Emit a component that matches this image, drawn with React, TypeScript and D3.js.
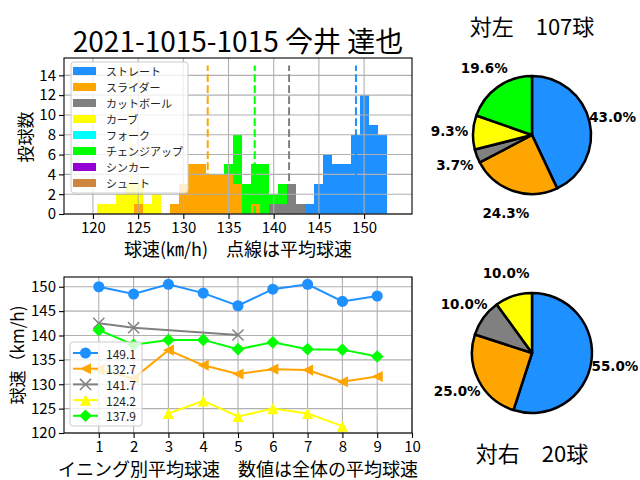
import React, { useRef, useEffect } from 'react';
import * as d3 from 'd3';

const pitchTypes = ['ストレート', 'スライダー', 'カットボール', 'カーブ', 'フォーク', 'チェンジアップ', 'シンカー', 'シュート'];
const pitchColors = ['#1e90ff', '#ffa500', '#808080', '#ffff00', '#00ffff', '#00ff00', '#9400d3', '#cd853f'];

// [speed km/h, count] per pitch type
const straightHist: [number, number][] = [[144, 1], [145, 3], [146, 6], [147, 5], [148, 5], [149, 8], [150, 12], [151, 9], [152, 8]];
const sliderHist: [number, number][] = [[125, 1], [129, 1], [130, 3], [131, 5], [132, 5], [133, 4], [134, 4], [135, 4], [136, 3], [138, 1]];
const cutterHist: [number, number][] = [[140, 1], [141, 1], [142, 3], [143, 1]];
const curveHist: [number, number][] = [[121, 1], [122, 1], [123, 2], [124, 3], [125, 2], [126, 1], [127, 2]];
const forkHist: [number, number][] = [];
const changeupHist: [number, number][] = [[135, 1], [136, 5], [137, 3], [138, 4], [139, 5], [140, 1], [141, 2]];
const sinkerHist: [number, number][] = [];
const shootHist: [number, number][] = [];
const pitchHists = [straightHist, sliderHist, cutterHist, curveHist, forkHist, changeupHist, sinkerHist, shootHist];

const meanSpeeds = [149.1, 132.7, 141.7, 124.2, NaN, 137.9, NaN, NaN];

const histXTicks = [120, 125, 130, 135, 140, 145, 150];
const histYTicks = [0, 2, 4, 6, 8, 10, 12, 14];

// [inning, average speed]
const straightByInning: [number, number][] = [[1, 150.0], [2, 148.5], [3, 150.5], [4, 148.7], [5, 146.1], [6, 149.5], [7, 150.5], [8, 147.0], [9, 148.1]];
const sliderByInning: [number, number][] = [[1, 133.0], [2, 131.2], [3, 137.0], [4, 133.9], [5, 132.1], [6, 133.1], [7, 132.9], [8, 130.5], [9, 131.6]];
const cutterByInning: [number, number][] = [[1, 142.5], [2, 141.6], [5, 140.1]];
const curveByInning: [number, number][] = [[3, 124.0], [4, 126.6], [5, 123.4], [6, 125.0], [7, 124.0], [8, 121.4]];
const changeupByInning: [number, number][] = [[1, 141.1], [2, 138.1], [3, 139.1], [4, 139.1], [5, 137.2], [6, 138.6], [7, 137.2], [8, 137.1], [9, 135.7]];
const inningSeries = [straightByInning, sliderByInning, cutterByInning, curveByInning, changeupByInning];
const inningSeriesType = [0, 1, 2, 3, 5];
const inningMarkers = ['circle', 'left', 'x', 'up', 'diamond'];

const inningXTicks = [1, 2, 3, 4, 5, 6, 7, 8, 9, 10];
const inningYTicks = [120, 125, 130, 135, 140, 145, 150];

// pitch counts by batter side, same order as pitchTypes
const leftCounts = [46, 26, 4, 10, 0, 21, 0, 0];
const rightCounts = [11, 5, 2, 2, 0, 0, 0, 0];

const App: React.FC = () => {
    const svgRef = useRef<SVGSVGElement | null>(null);
    const width = 640;
    const height = 480;

    useEffect(() => {
        if (!svgRef.current) return;
        const svg = d3.select(svgRef.current);
        svg.selectAll('*').remove();
        const font = '"Noto Sans CJK JP", sans-serif';

        svg.append('rect').attr('width', width).attr('height', height).attr('fill', 'white');

        const styleAxis = (g: any) => {
            g.select('.domain').remove();
            g.selectAll('line').attr('stroke', 'black').attr('stroke-width', 1.1);
            g.selectAll('text').attr('font-family', font).attr('font-size', 15).attr('fill', 'black');
        };

        // ---------- histogram ----------
        const hx = d3.scaleLinear().domain([116.8, 155.3]).range([64, 412]);
        const hy = d3.scaleLinear().domain([0, 15.75]).range([214, 58]);

        const speeds = d3.range(118, 155);
        const rows = speeds.map(s => {
            const row: any = { speed: s };
            pitchHists.forEach((h, i) => {
                const f = h.find(d => d[0] === s);
                row[pitchTypes[i]] = f ? f[1] : 0;
            });
            return row;
        });
        const stacked = d3.stack<any>().keys(pitchTypes)(rows);
        stacked.forEach((layer, i) => {
            svg.append('g')
                .selectAll('rect')
                .data(layer.filter(d => d[1] > d[0]))
                .join('rect')
                .attr('x', d => hx(d.data.speed - 0.5))
                .attr('width', d => hx(d.data.speed + 0.5) - hx(d.data.speed - 0.5))
                .attr('y', d => hy(d[1]))
                .attr('height', d => hy(d[0]) - hy(d[1]))
                .attr('fill', pitchColors[i])
                .attr('shape-rendering', 'crispEdges');
        });

        const hGrid = svg.append('g').attr('stroke', '#b0b0b0').attr('stroke-width', 1.1);
        histXTicks.forEach(t => hGrid.append('line').attr('x1', hx(t)).attr('x2', hx(t)).attr('y1', 58).attr('y2', 214));
        histYTicks.forEach(t => hGrid.append('line').attr('x1', 64).attr('x2', 412).attr('y1', hy(t)).attr('y2', hy(t)));

        meanSpeeds.forEach((m, i) => {
            if (isNaN(m)) return;
            svg.append('line')
                .attr('x1', hx(m)).attr('x2', hx(m))
                .attr('y1', hy(0)).attr('y2', hy(15))
                .attr('stroke', pitchColors[i])
                .attr('stroke-width', 2)
                .attr('stroke-dasharray', '7.7 3.3');
        });

        svg.append('g').attr('transform', 'translate(0,214)')
            .call(d3.axisBottom(hx).tickValues(histXTicks).tickSize(5).tickPadding(3).tickFormat(d3.format('d')))
            .call(styleAxis);
        svg.append('g').attr('transform', 'translate(64,0)')
            .call(d3.axisLeft(hy).tickValues(histYTicks).tickSize(5).tickPadding(3).tickFormat(d3.format('d')))
            .call(styleAxis);
        svg.append('rect').attr('x', 64).attr('y', 58).attr('width', 348).attr('height', 156)
            .attr('fill', 'none').attr('stroke', 'black').attr('stroke-width', 1.1);

        const hLegend = svg.append('g');
        hLegend.append('rect').attr('x', 71).attr('y', 62).attr('width', 117).attr('height', 131).attr('rx', 3)
            .attr('fill', 'white').attr('fill-opacity', 0.8).attr('stroke', '#cccccc');
        pitchTypes.forEach((p, i) => {
            const cy = 71 + i * 16;
            hLegend.append('rect').attr('x', 73).attr('y', cy - 4).attr('width', 23).attr('height', 8).attr('fill', pitchColors[i]);
            hLegend.append('text').attr('x', 106).attr('y', cy).attr('dominant-baseline', 'central')
                .attr('font-family', font).attr('font-size', 11).attr('fill', '#222').text(p);
        });

        svg.append('text').attr('x', 238).attr('y', 40).attr('text-anchor', 'middle').attr('dominant-baseline', 'central')
            .attr('font-family', font).attr('font-size', 28).text('2021-1015-1015 今井 達也');
        svg.append('text').attr('x', 238).attr('y', 248).attr('text-anchor', 'middle').attr('dominant-baseline', 'central')
            .attr('font-family', font).attr('font-size', 18).text('球速(㎞/h)　点線は平均球速');
        svg.append('text').attr('transform', 'translate(24,137) rotate(-90)').attr('text-anchor', 'middle').attr('dominant-baseline', 'central')
            .attr('font-family', font).attr('font-size', 17).text('投球数');

        // ---------- speed by inning ----------
        const lx = d3.scaleLinear().domain([0, 10]).range([64, 412]);
        const ly = d3.scaleLinear().domain([120, 152]).range([433, 277]);

        const lGrid = svg.append('g').attr('stroke', '#b0b0b0').attr('stroke-width', 1.1);
        inningXTicks.forEach(t => lGrid.append('line').attr('x1', lx(t)).attr('x2', lx(t)).attr('y1', 277).attr('y2', 433));
        inningYTicks.forEach(t => lGrid.append('line').attr('x1', 64).attr('x2', 412).attr('y1', ly(t)).attr('y2', ly(t)));

        const drawMarker = (g: any, kind: string, x: number, y: number, color: string) => {
            const s = 5.55;
            if (kind === 'circle') {
                g.append('circle').attr('cx', x).attr('cy', y).attr('r', s).attr('fill', color);
            } else if (kind === 'left') {
                g.append('path').attr('d', `M${x - s},${y}L${x + s},${y - s}L${x + s},${y + s}Z`).attr('fill', color);
            } else if (kind === 'up') {
                g.append('path').attr('d', `M${x},${y - s}L${x + s},${y + s}L${x - s},${y + s}Z`).attr('fill', color);
            } else if (kind === 'diamond') {
                const d = 6.3;
                g.append('path').attr('d', `M${x},${y - d}L${x + d},${y}L${x},${y + d}L${x - d},${y}Z`).attr('fill', color);
            } else {
                g.append('path').attr('d', `M${x - s},${y - s}L${x + s},${y + s}M${x - s},${y + s}L${x + s},${y - s}`)
                    .attr('stroke', color).attr('stroke-width', 1.5).attr('fill', 'none');
            }
        };

        const line = d3.line<[number, number]>().x(d => lx(d[0])).y(d => ly(d[1]));
        inningSeries.forEach((series, i) => {
            const color = pitchColors[inningSeriesType[i]];
            const g = svg.append('g');
            g.append('path').datum(series).attr('d', line).attr('fill', 'none')
                .attr('stroke', color).attr('stroke-width', 2);
            series.forEach(d => drawMarker(g, inningMarkers[i], lx(d[0]), ly(d[1]), color));
        });

        svg.append('g').attr('transform', 'translate(0,433)')
            .call(d3.axisBottom(lx).tickValues(inningXTicks).tickSize(5).tickPadding(3).tickFormat(d3.format('d')))
            .call(styleAxis);
        svg.append('g').attr('transform', 'translate(64,0)')
            .call(d3.axisLeft(ly).tickValues(inningYTicks).tickSize(5).tickPadding(3).tickFormat(d3.format('d')))
            .call(styleAxis);
        svg.append('rect').attr('x', 64).attr('y', 277).attr('width', 348).attr('height', 156)
            .attr('fill', 'none').attr('stroke', 'black').attr('stroke-width', 1.1);

        const lLegend = svg.append('g');
        lLegend.append('rect').attr('x', 70).attr('y', 342).attr('width', 72).attr('height', 84).attr('rx', 3)
            .attr('fill', 'white').attr('fill-opacity', 0.8).attr('stroke', '#cccccc');
        inningSeriesType.forEach((t, i) => {
            const cy = 353 + i * 15.7;
            const color = pitchColors[t];
            lLegend.append('line').attr('x1', 73).attr('x2', 98).attr('y1', cy).attr('y2', cy)
                .attr('stroke', color).attr('stroke-width', 2);
            drawMarker(lLegend, inningMarkers[i], 85.5, cy, color);
            lLegend.append('text').attr('x', 106).attr('y', cy).attr('dominant-baseline', 'central')
                .attr('font-family', font).attr('font-size', 12).attr('fill', '#222').text(meanSpeeds[t].toFixed(1));
        });

        svg.append('text').attr('x', 238).attr('y', 468).attr('text-anchor', 'middle').attr('dominant-baseline', 'central')
            .attr('font-family', font).attr('font-size', 18).text('イニング別平均球速　数値は全体の平均球速');
        svg.append('text').attr('transform', 'translate(16,355) rotate(-90)').attr('text-anchor', 'middle').attr('dominant-baseline', 'central')
            .attr('font-family', font).attr('font-size', 17).text('球速（km/h)');

        // ---------- pies ----------
        const drawPie = (counts: number[], cx: number, cy: number, r: number, title: string, titleY: number) => {
            const total = d3.sum(counts);
            const items = counts.map((c, i) => ({ c, i })).filter(d => d.c > 0);
            const arcs = d3.pie<{ c: number; i: number }>().value(d => d.c).sort(null)(items);
            const arc = d3.arc<any>().innerRadius(0).outerRadius(r);
            const g = svg.append('g').attr('transform', `translate(${cx},${cy})`);
            g.selectAll('path').data(arcs).join('path')
                .attr('d', arc)
                .attr('fill', d => pitchColors[d.data.i])
                .attr('stroke', 'black')
                .attr('stroke-width', 2.5)
                .attr('stroke-linejoin', 'round');
            arcs.forEach(a => {
                const mid = (a.startAngle + a.endAngle) / 2;
                const R = r * 1.4;
                g.append('text')
                    .attr('x', R * Math.sin(mid))
                    .attr('y', -R * Math.cos(mid))
                    .attr('text-anchor', 'middle')
                    .attr('dominant-baseline', 'central')
                    .attr('font-family', '"DejaVu Sans", sans-serif')
                    .attr('font-weight', 'bold')
                    .attr('font-size', 13.5)
                    .text(`${(a.data.c / total * 100).toFixed(1)}%`);
            });
            svg.append('text').attr('x', cx).attr('y', titleY).attr('text-anchor', 'middle').attr('dominant-baseline', 'central')
                .attr('font-family', font).attr('font-size', 22).text(title.replace('N', String(total)));
        };

        drawPie(leftCounts, 532, 135, 59, '対左　N球', 25);
        drawPie(rightCounts, 532, 353, 60, '対右　N球', 452);
    }, []);

    return (
        <div style={{ position: 'absolute', left: 0, top: 0 }}>
            <svg ref={svgRef} width={width} height={height}></svg>
        </div>
    );
};

export default App;
